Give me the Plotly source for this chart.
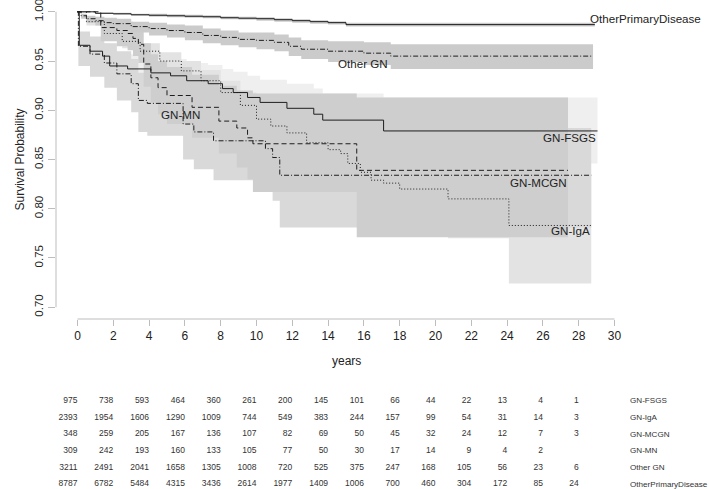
import plotly.graph_objects as go

# Kaplan-Meier curves (time in years, survival, CI lower, CI upper)
fsgs_t = [0, 0.1, 0.7, 1.4, 1.8, 2.8, 4.1, 5.2, 6.1, 7.3, 8.1, 8.7, 9.5, 10.2, 11.7, 13.2, 13.7, 17.1, 29.05]
fsgs_s = [1.0, 0.966, 0.960, 0.955, 0.945, 0.942, 0.938, 0.935, 0.930, 0.927, 0.922, 0.918, 0.913, 0.908, 0.902, 0.896, 0.890, 0.879, 0.879]
fsgs_lo = [1.0, 0.954, 0.946, 0.940, 0.929, 0.925, 0.920, 0.916, 0.910, 0.906, 0.900, 0.895, 0.889, 0.883, 0.876, 0.868, 0.861, 0.846, 0.846]
fsgs_hi = [1.0, 0.977, 0.972, 0.968, 0.959, 0.957, 0.954, 0.952, 0.948, 0.946, 0.942, 0.939, 0.935, 0.931, 0.927, 0.922, 0.917, 0.913, 0.913]

iga_t = [0, 0.5, 1.5, 2.5, 3.5, 4.6, 5.8, 6.9, 8.0, 9.1, 10.0, 10.8, 11.7, 12.8, 14.0, 14.7, 15.1, 15.8, 16.4, 17.1, 18.0, 20.7, 24.1, 28.7]
iga_s = [1.0, 0.990, 0.978, 0.970, 0.960, 0.950, 0.940, 0.930, 0.918, 0.905, 0.891, 0.884, 0.877, 0.867, 0.860, 0.856, 0.846, 0.837, 0.829, 0.826, 0.820, 0.810, 0.783, 0.783]
iga_lo = [1.0, 0.986, 0.972, 0.963, 0.952, 0.941, 0.930, 0.919, 0.905, 0.891, 0.875, 0.867, 0.859, 0.847, 0.838, 0.833, 0.822, 0.811, 0.801, 0.796, 0.787, 0.770, 0.724, 0.724]
iga_hi = [1.0, 0.994, 0.984, 0.977, 0.968, 0.959, 0.950, 0.941, 0.930, 0.918, 0.905, 0.899, 0.893, 0.885, 0.880, 0.877, 0.868, 0.861, 0.855, 0.853, 0.850, 0.845, 0.835, 0.835]

mcgn_t = [0, 1.3, 2.2, 2.8, 3.1, 3.4, 3.7, 4.1, 4.5, 5.0, 6.4, 7.9, 8.9, 9.5, 9.8, 15.6, 27.4]
mcgn_s = [1.0, 0.984, 0.981, 0.978, 0.973, 0.967, 0.947, 0.933, 0.923, 0.915, 0.903, 0.889, 0.882, 0.872, 0.866, 0.839, 0.839]
mcgn_lo = [1.0, 0.970, 0.965, 0.961, 0.955, 0.948, 0.924, 0.908, 0.896, 0.886, 0.872, 0.856, 0.842, 0.830, 0.817, 0.771, 0.771]
mcgn_hi = [1.0, 0.994, 0.992, 0.990, 0.987, 0.983, 0.968, 0.957, 0.950, 0.944, 0.936, 0.925, 0.920, 0.920, 0.917, 0.913, 0.913]

mn_t = [0, 0.05, 0.7, 1.5, 2.2, 3.0, 3.4, 3.9, 5.9, 6.5, 7.6, 10.5, 10.9, 11.3, 28.7]
mn_s = [1.0, 0.965, 0.957, 0.948, 0.937, 0.927, 0.910, 0.907, 0.886, 0.878, 0.869, 0.861, 0.852, 0.834, 0.834]
mn_lo = [1.0, 0.945, 0.934, 0.923, 0.910, 0.898, 0.878, 0.874, 0.850, 0.840, 0.829, 0.819, 0.808, 0.781, 0.781]
mn_hi = [1.0, 0.980, 0.975, 0.968, 0.960, 0.952, 0.938, 0.936, 0.918, 0.912, 0.905, 0.900, 0.893, 0.882, 0.882]

ogn_t = [0, 0.2, 0.5, 1, 1.5, 2, 3, 4, 5, 6, 7, 8, 9, 10, 11, 11.8, 12.5, 14, 16, 17.5, 28.8]
ogn_s = [1.0, 0.996, 0.993, 0.991, 0.989, 0.988, 0.985, 0.983, 0.981, 0.979, 0.976, 0.974, 0.972, 0.971, 0.969, 0.965, 0.962, 0.960, 0.958, 0.955, 0.955]
ogn_lo = [1.0, 0.993, 0.989, 0.986, 0.984, 0.982, 0.979, 0.976, 0.974, 0.971, 0.968, 0.966, 0.964, 0.962, 0.960, 0.955, 0.952, 0.949, 0.946, 0.942, 0.942]
ogn_hi = [1.0, 0.998, 0.996, 0.995, 0.993, 0.993, 0.990, 0.989, 0.987, 0.986, 0.983, 0.981, 0.979, 0.979, 0.977, 0.974, 0.971, 0.970, 0.969, 0.967, 0.967]

opd_t = [0, 1, 2, 3, 4, 5, 6, 7, 8, 9, 10, 11, 12, 13, 14, 15, 28.9]
opd_s = [1.0, 0.9985, 0.998, 0.997, 0.9965, 0.996, 0.9955, 0.995, 0.994, 0.9935, 0.993, 0.992, 0.991, 0.990, 0.989, 0.987, 0.987]
opd_lo = [1.0, 0.998, 0.997, 0.996, 0.995, 0.9945, 0.994, 0.9935, 0.9925, 0.992, 0.991, 0.990, 0.989, 0.988, 0.987, 0.985, 0.985]
opd_hi = [1.0, 0.9992, 0.999, 0.998, 0.998, 0.9975, 0.997, 0.9965, 0.9955, 0.995, 0.9945, 0.9935, 0.9925, 0.9915, 0.9905, 0.989, 0.989]

# number at risk table
risk_times = [0, 2, 4, 6, 8, 10, 12, 14, 16, 18, 20, 22, 24, 26, 28]
groups = ["GN-FSGS", "GN-IgA", "GN-MCGN", "GN-MN", "Other GN", "OtherPrimaryDisease"]
risk_fsgs = [975, 738, 593, 464, 360, 261, 200, 145, 101, 66, 44, 22, 13, 4, 1]
risk_iga = [2393, 1954, 1606, 1290, 1009, 744, 549, 383, 244, 157, 99, 54, 31, 14, 3]
risk_mcgn = [348, 259, 205, 167, 136, 107, 82, 69, 50, 45, 32, 24, 12, 7, 3]
risk_mn = [309, 242, 193, 160, 133, 105, 77, 50, 30, 17, 14, 9, 4, 2]
risk_ogn = [3211, 2491, 2041, 1658, 1305, 1008, 720, 525, 375, 247, 168, 105, 56, 23, 6]
risk_opd = [8787, 6782, 5484, 4315, 3436, 2614, 1977, 1409, 1006, 700, 460, 304, 172, 85, 24]

y_ticks = [0.70, 0.75, 0.80, 0.85, 0.90, 0.95, 1.00]
x_ticks = list(range(0, 31, 2))

FONT = "Liberation Sans, Arial, sans-serif"

# band order = drawing order (later bands cover earlier ones)
bands = [
  (fsgs_t, fsgs_lo, fsgs_hi, "#efefef"),
  (iga_t, iga_lo, iga_hi, "#e3e3e3"),
  (mn_t, mn_lo, mn_hi, "#d9d9d9"),
  (mcgn_t, mcgn_lo, mcgn_hi, "#cecece"),
  (ogn_t, ogn_lo, ogn_hi, "#cbcbcb"),
  (opd_t, opd_lo, opd_hi, "#cbcbcb"),
]
curves = [
  (fsgs_t, fsgs_s, "solid"),
  (iga_t, iga_s, "1px,2px"),
  (mcgn_t, mcgn_s, "5px,3px"),
  (mn_t, mn_s, "5px,2px,1px,2px"),
  (ogn_t, ogn_s, "5px,2px,1px,2px"),
  (opd_t, opd_s, "solid"),
]

fig = go.Figure()

for t, lo, hi, col in bands:
  fig.add_trace(go.Scatter(x=t, y=hi, mode='lines', line=dict(width=0, shape='hv'),
                           showlegend=False, hoverinfo='skip'))
  fig.add_trace(go.Scatter(x=t, y=lo, mode='lines', line=dict(width=0, shape='hv'),
                           fill='tonexty', fillcolor=col, showlegend=False, hoverinfo='skip'))

for t, s, dash in curves:
  fig.add_trace(go.Scatter(x=t, y=s, mode='lines', line=dict(color='#1e1e1e', width=1, shape='hv', dash=dash),
                           showlegend=False))

# risk table
risk_rows = [risk_fsgs, risk_iga, risk_mcgn, risk_mn, risk_ogn, risk_opd]
for i, row in enumerate(risk_rows):
  fig.add_trace(go.Scatter(x=risk_times[:len(row)], y=[i] * len(row), mode='text',
                           text=[str(v) for v in row], textposition='middle left',
                           textfont=dict(size=8.5, color='#333333', family=FONT),
                           xaxis='x2', yaxis='y2', showlegend=False, hoverinfo='skip'))

annotations = []
for i, g in enumerate(groups):
  annotations.append(dict(x=30.8, y=i, xref='x', yref='y2', text=g, showarrow=False,
                          xanchor='left', borderpad=0, font=dict(size=8.1, color='#333333', family=FONT)))

# curve labels
curve_labels = [
  ("OtherPrimaryDisease", 28.6, 0.9936, 'left'),
  ("Other GN", 15.97, 0.948, 'center'),
  ("GN-MN", 5.74, 0.896, 'center'),
  ("GN-FSGS", 29.0, 0.8725, 'right'),
  ("GN-MCGN", 25.75, 0.8265, 'center'),
  ("GN-IgA", 28.7, 0.7776, 'right'),
]
for txt, x, y, anc in curve_labels:
  annotations.append(dict(x=x, y=y, xref='x', yref='y', text=txt, showarrow=False,
                          xanchor=anc, borderpad=0, font=dict(size=11.6, color='#222222', family=FONT)))

annotations.append(dict(x=15, y=(489 - 370) / 489, xref='x', yref='paper', text='years',
                        showarrow=False, font=dict(size=12, color='#222222', family=FONT)))
annotations.append(dict(x=(10 - 56) / 580, y=0.85, xref='paper', yref='y', text='Survival Probability',
                        textangle=-90, showarrow=False, font=dict(size=12, color='#222222', family=FONT)))

fig.update_layout(
  width=709, height=489,
  margin=dict(l=56, r=73, t=0, b=0, autoexpand=False),
  plot_bgcolor='white', paper_bgcolor='white',
  font=dict(family=FONT, color='#222222'),
  xaxis=dict(domain=[0, 1], range=[-1.2, 31.2], tickvals=x_ticks, ticks='outside', ticklen=6,
             tickcolor='#bdbdbd', showline=False, showgrid=False, zeroline=False,
             tickfont=dict(size=12), anchor='y', automargin=False),
  yaxis=dict(domain=[170 / 489, 1], range=[0.688, 1.012], tickvals=y_ticks,
             ticktext=['%.2f' % v for v in y_ticks], tickangle=-90, ticks='outside', ticklen=7,
             tickcolor='#bdbdbd', showline=False, showgrid=False, zeroline=False,
             tickfont=dict(size=11.5), automargin=False, ticklabeloverflow='allow'),
  xaxis2=dict(matches='x', anchor='y2', visible=False, automargin=False),
  yaxis2=dict(domain=[0, 100 / 489], range=[5.3, -0.72], visible=False, automargin=False),
  annotations=annotations,
  shapes=[
    dict(type='line', xref='paper', yref='y', x0=0, x1=0, y0=0.70, y1=1.00,
         line=dict(color='#bdbdbd', width=1)),
    dict(type='line', xref='x', yref='y domain', x0=0, x1=30, y0=0, y1=0,
         line=dict(color='#bdbdbd', width=1)),
  ],
)

# the page body has a default 8px margin; drop it so the figure fills the window
fig.write_html("out.html", config={'displayModeBar': False},
               post_script="document.body.style.margin='0';")
